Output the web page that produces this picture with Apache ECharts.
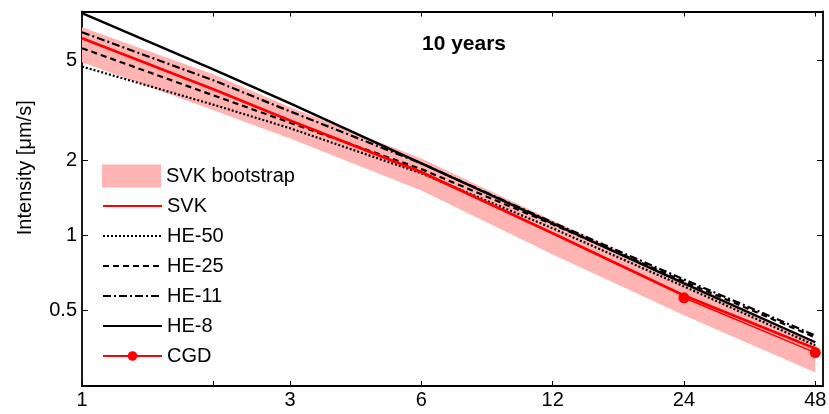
<!DOCTYPE html>
<html><head><meta charset="utf-8">
<script src="https://cdn.jsdelivr.net/npm/echarts@6/dist/echarts.min.js"></script>
<style>html,body{margin:0;padding:0;background:#fff}#c{width:829px;height:414px}</style>
</head><body><div id="c"></div>
<script>
// ---- data ----
const hours = [1, 2, 3, 6, 12, 24, 48];
const bootLow = [4.92, 3.16, 2.44, 1.51, 0.839, 0.479, 0.283];
const bootHigh = [6.79, 4.41, 3.25, 2.03, 1.148, 0.655, 0.377];
const svk = [6.14, 3.84, 2.88, 1.79, 1.02, 0.575, 0.353];
const he50 = [4.73, 3.33, 2.68, 1.77, 1.067, 0.625, 0.363];
const he25 = [5.60, 3.63, 2.82, 1.84, 1.107, 0.655, 0.391];
const he11 = [6.49, 4.17, 3.13, 1.94, 1.127, 0.667, 0.398];
const he8 = [7.73, 4.61, 3.37, 1.94, 1.117, 0.643, 0.374];
const cgdHours = [24, 48];
const cgd = [0.563, 0.340];
const xTickValues = [1, 2, 3, 6, 12, 24, 48];
const xLabelValues = [1, 3, 6, 12, 24, 48];
const yTickValues = [0.5, 1, 2, 5];
const xRange = [1, 50];
const yRange = [0.25, 7.85];

// ---- chart ----
const L = Math.log10;
const FONT = '"Liberation Sans", Arial, Helvetica, sans-serif';
const fmt = v => String(+Math.pow(10, v).toPrecision(3));
const pts = (xs, ys) => xs.map((x, i) => [L(x), L(ys[i])]);
const PINK = '#ffb4b4', RED = '#ff0000', BLACK = '#000000';

const axisLine = { show: true, onZero: false, lineStyle: { color: BLACK, width: 1.8 } };
const xTick = { show: true, inside: true, length: 5, customValues: xTickValues.map(L), lineStyle: { color: BLACK, width: 1 } };
const yTick = { show: true, inside: true, length: 6, customValues: yTickValues.map(L), lineStyle: { color: BLACK, width: 1 } };

function lineSeries(name, ys, color, width, type) {
  return {
    type: 'line', name, data: pts(hours, ys), symbol: 'none', smooth: false,
    lineStyle: { color, width, type }, itemStyle: { color }, z: 3, silent: true
  };
}
const noSym = name => ({ name, itemStyle: { opacity: 0 } });

const chart = echarts.init(document.getElementById('c'), null, { renderer: 'canvas' });
chart.setOption({
  animation: false,
  backgroundColor: '#fff',
  title: {
    text: '10 years', left: 459, top: 29, textAlign: 'center',
    textStyle: { fontSize: 21, fontWeight: 'bold', color: BLACK, fontFamily: FONT }
  },
  grid: { left: 82, right: 6, top: 11.5, bottom: 28, containLabel: false, outerBoundsMode: 'none' },
  legend: [
    {
      data: [{ name: 'SVK bootstrap', icon: 'rect' }], orient: 'vertical', left: 102, top: 164.5,
      padding: 0, itemWidth: 59, itemHeight: 23, selectedMode: false,
      textStyle: { fontSize: 20, color: BLACK, fontFamily: FONT }
    },
    {
      data: [noSym('SVK'), noSym('HE-50'), noSym('HE-25'), noSym('HE-11'), noSym('HE-8'), 'CGD'],
      orient: 'vertical', left: 102, top: 196,
      padding: 0, itemWidth: 59, itemHeight: 12, itemGap: 10, selectedMode: false,
      textStyle: { fontSize: 20, color: BLACK, fontFamily: FONT }
    }
  ],
  xAxis: [
    {
      type: 'value', position: 'bottom', min: L(xRange[0]), max: L(xRange[1]),
      axisLine, axisTick: xTick, splitLine: { show: false },
      axisLabel: { customValues: xLabelValues.map(L), formatter: fmt, color: BLACK, fontSize: 20, margin: 4, fontFamily: FONT }
    },
    {
      type: 'value', position: 'top', min: L(xRange[0]), max: L(xRange[1]),
      axisLine, axisTick: xTick, splitLine: { show: false }, axisLabel: { show: false }
    }
  ],
  yAxis: [
    {
      type: 'value', position: 'left', min: L(yRange[0]), max: L(yRange[1]),
      axisLine, axisTick: yTick, splitLine: { show: false },
      axisLabel: { customValues: yTickValues.map(L), formatter: fmt, color: BLACK, fontSize: 20, margin: 5, fontFamily: FONT },
      name: 'Intensity [\u03bcm/s]', nameLocation: 'middle', nameGap: 47,
      nameTextStyle: { fontSize: 20, color: BLACK, fontFamily: FONT, padding: [0, 0, 0, 62] }
    },
    {
      type: 'value', position: 'right', min: L(yRange[0]), max: L(yRange[1]),
      axisLine, axisTick: yTick, splitLine: { show: false }, axisLabel: { show: false }
    }
  ],
  series: [
    {
      type: 'custom', name: 'SVK bootstrap', silent: true, z: 1,
      itemStyle: { color: PINK },
      data: hours.map((h, i) => [L(h), L(bootLow[i]), L(bootHigh[i])]),
      renderItem: (params, api) => {
        if (params.dataIndex !== 0) return null;
        const upper = hours.map((h, i) => api.coord([L(h), L(bootHigh[i])]));
        const lower = hours.map((h, i) => api.coord([L(h), L(bootLow[i])])).reverse();
        return { type: 'polygon', shape: { points: upper.concat(lower) }, style: { fill: PINK } };
      }
    },
    lineSeries('HE-50', he50, BLACK, 2.2, [2, 2]),
    lineSeries('HE-25', he25, BLACK, 2.2, [6, 4]),
    lineSeries('HE-11', he11, BLACK, 2.2, [8, 3, 2, 3]),
    lineSeries('HE-8', he8, BLACK, 2.4, 'solid'),
    lineSeries('SVK', svk, RED, 2.8, 'solid'),
    {
      type: 'line', name: 'CGD', data: pts(cgdHours, cgd), symbol: 'circle', symbolSize: 11,
      lineStyle: { color: RED, width: 1.5 }, itemStyle: { color: RED }, z: 4, silent: true
    }
  ]
});
</script>
</body></html>
